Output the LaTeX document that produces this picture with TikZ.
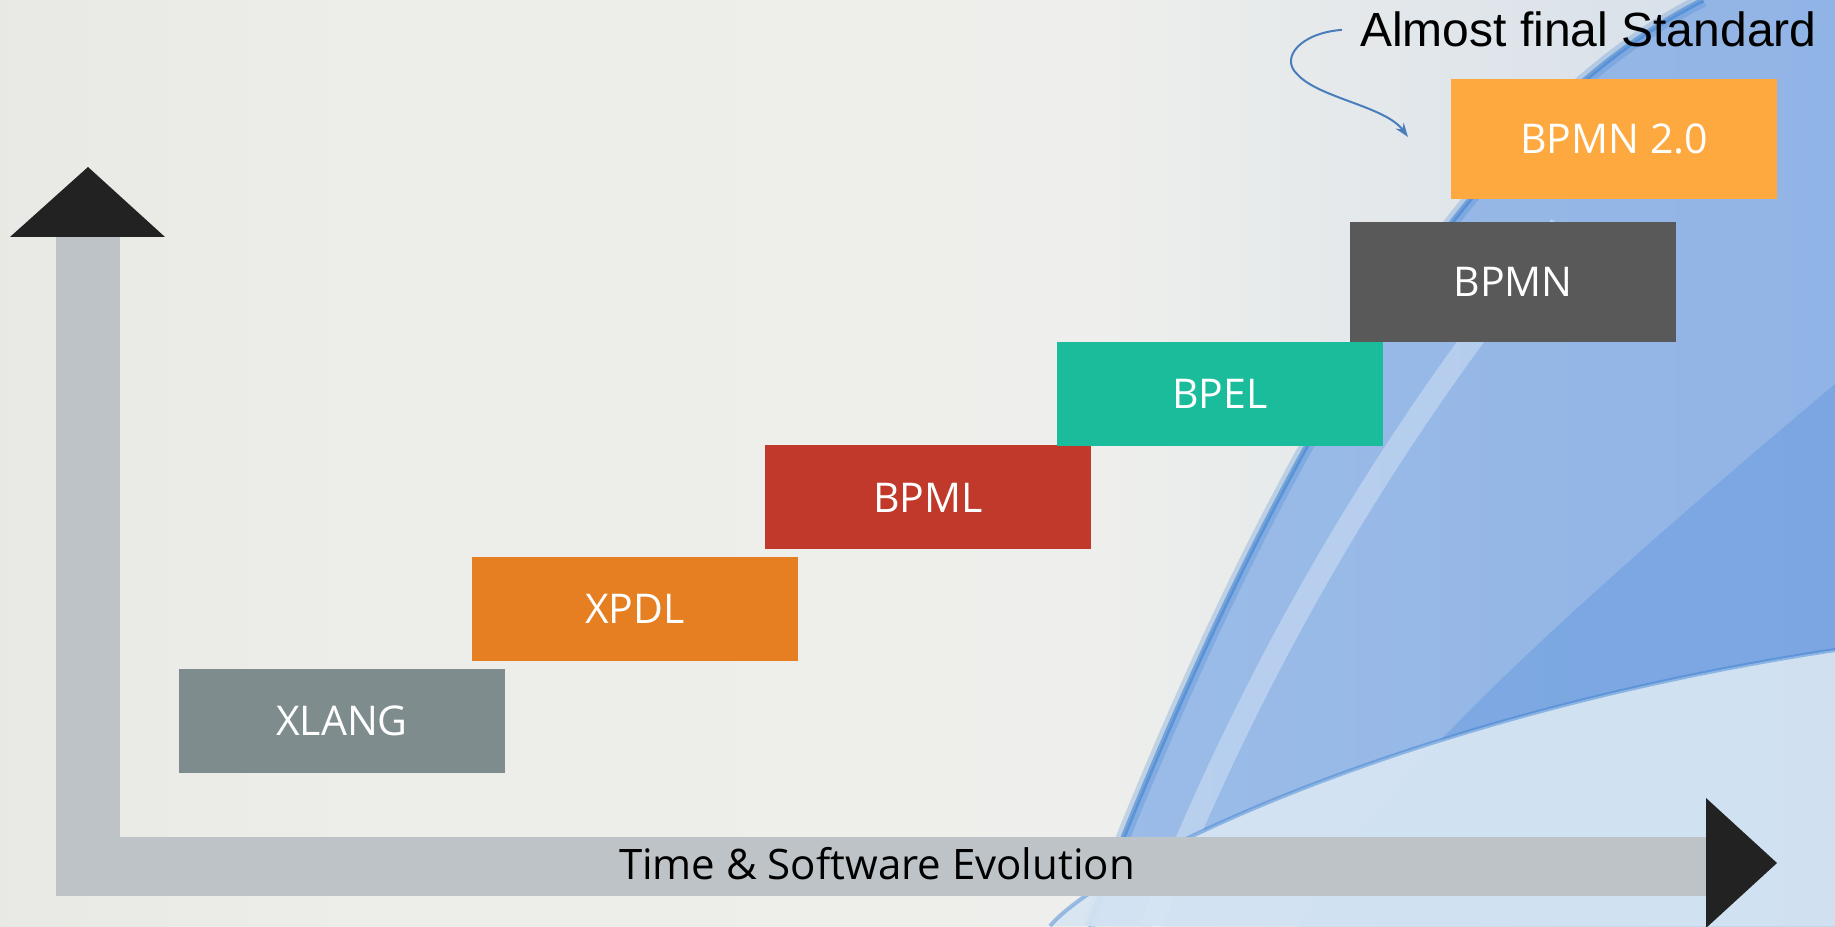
\documentclass[tikz,border=0pt]{standalone}
\usepackage{fontspec}
\usepackage{tikz}
\usetikzlibrary{arrows.meta, positioning}
\newfontfamily\boxfont{Open Sans}
\newfontfamily\notefont{Liberation Sans}
\definecolor{xlangc}{HTML}{7F8C8D}
\definecolor{xpdlc}{HTML}{E67E22}
\definecolor{bpmlc}{HTML}{C0392B}
\definecolor{bpelc}{HTML}{1ABC9C}
\definecolor{bpmnc}{HTML}{595959}
\definecolor{bpmntwoc}{HTML}{FEA940}
\definecolor{barsilver}{HTML}{BDC3C7}
\definecolor{headblack}{HTML}{222222}
\definecolor{curveblue}{HTML}{4A7EBB}
\definecolor{bgleft}{HTML}{DEDED9}
\definecolor{bgmid}{HTML}{EDEDE9}
\definecolor{bgmidtwo}{HTML}{EEEFEC}
\definecolor{bghaze}{HTML}{DCE3EA}
\definecolor{bgright}{HTML}{B4CAE6}
\definecolor{swooshl}{HTML}{93B7E7}
\definecolor{swooshr}{HTML}{8AB0E6}
\definecolor{swooshedge}{HTML}{3A7FD0}
\definecolor{deepblue}{HTML}{6A9CDF}
\definecolor{lowblue}{HTML}{D8E6F3}
\pgfdeclarehorizontalshading{slidebg}{100bp}{color(0bp)=(bgleft); color(35bp)=(bgmid);
  color(55bp)=(bgmidtwo); color(68bp)=(bghaze); color(100bp)=(bgright)}

\begin{document}
\begin{tikzpicture}[x=1pt, y=1pt,
  box/.style={minimum width=326pt, minimum height=104pt, inner sep=0pt, text=white,
              font=\boxfont\fontsize{41}{49}\selectfont},
  tallbox/.style={box, minimum height=120pt},
  axisbar/.style={fill=barsilver},
  axishead/.style={fill=headblack},
  curvy/.style={-{Stealth[length=14pt, width=10pt]}, draw=curveblue, line width=2pt},
  note/.style={inner sep=0pt, font=\notefont\fontsize{48}{56}\selectfont},
]
\useasboundingbox (0,0) rectangle (1835,926);

% Fond
\shade[shading=slidebg] (0,0) rectangle (1835,926);
\shade[left color=swooshl, right color=swooshr, opacity=0.9]
  (1088,0) .. controls (1250,420) and (1450,800) .. (1703,926) -- (1835,926) -- (1835,0) -- cycle;
\fill[deepblue, opacity=0.55]
  (1300,0) .. controls (1360,120) and (1500,260) .. (1835,542) -- (1835,0) -- cycle;
\draw[swooshedge, line width=14pt, opacity=0.25]
  (1088,0) .. controls (1250,420) and (1450,800) .. (1703,926);
\draw[swooshedge, line width=5pt, opacity=0.55]
  (1088,0) .. controls (1250,420) and (1450,800) .. (1703,926);
\draw[white, line width=22pt, opacity=0.3]
  (1151,0) .. controls (1250,250) and (1380,480) .. (1560,700);
\fill[lowblue, opacity=0.92]
  (1050,0) .. controls (1100,60) and (1400,210) .. (1835,276) -- (1835,0) -- cycle;
\draw[swooshedge, line width=4pt, opacity=0.45]
  (1050,0) .. controls (1100,60) and (1400,210) .. (1835,276);

% Axes
\fill[axisbar] (56,30) rectangle (120,689);
\fill[axisbar] (56,30) rectangle (1706,89);
\fill[axishead] (10,689) -- (165,689) -- (88,759) -- cycle;
\fill[axishead] (1706,-2) -- (1706,128) -- (1777,63) -- cycle;
\node[inner sep=0pt, font=\boxfont\fontsize{42}{50}\selectfont] (axis) at (877,62) {Time \& Software Evolution};

% Boîtes
\node[box, fill=xlangc]        (xlang)   at (342,205)   {XLANG};
\node[box, fill=xpdlc]         (xpdl)    at (635,317)   {XPDL};
\node[box, fill=bpmlc]         (bpml)    at (928,428.5) {BPML};
\node[box, fill=bpelc]         (bpel)    at (1220,532)  {BPEL};
\node[tallbox, fill=bpmnc]     (bpmn)    at (1513,644)  {BPMN};
\node[tallbox, fill=bpmntwoc]  (bpmntwo) at (1614,787)  {BPMN 2.0};

% Annotation
\node[note, anchor=base west] (std) at (1360,879) {Almost final Standard};
\coordinate (tip) at (1408,789);
\draw[curvy] ([xshift=-18pt]std.west) .. controls (1300,893) and (1280,868) .. (1297,852)
  .. controls (1318,828) and (1385,820) .. (tip);
\end{tikzpicture}
\end{document}
